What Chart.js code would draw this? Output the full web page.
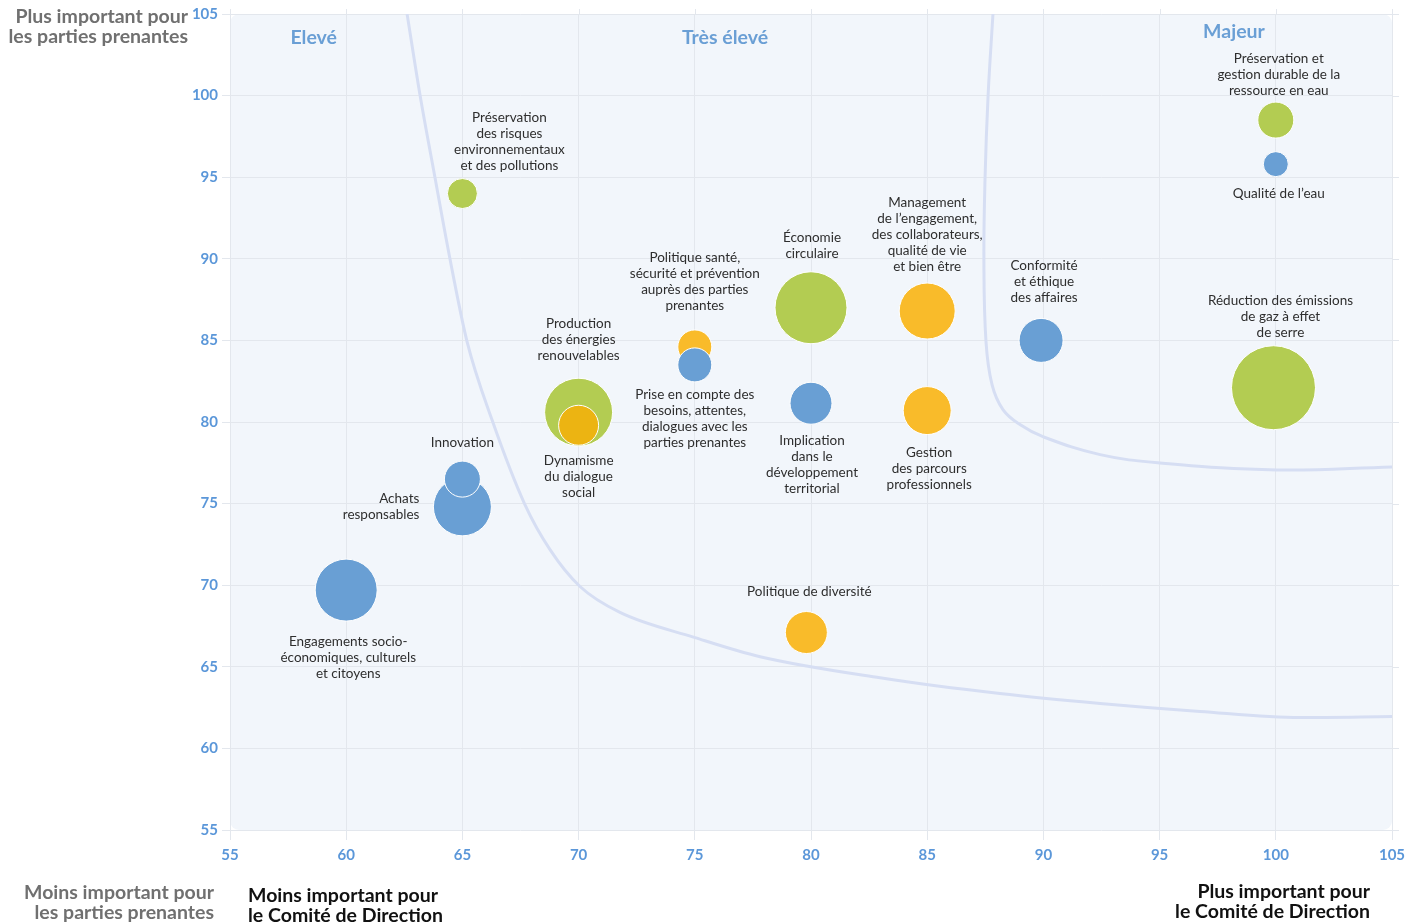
<!DOCTYPE html>
<html lang="fr">
<head>
<meta charset="utf-8">
<title>Matrice de matérialité</title>
<script src="https://cdn.jsdelivr.net/npm/chart.js@4.4.1/dist/chart.umd.min.js"></script>
<style>
  html, body { margin: 0; padding: 0; background: #fff; }
  #wrap { width: 1421px; height: 924px; }
</style>
</head>
<body>
<div id="wrap"><canvas id="matrix" width="1421" height="924"></canvas></div>
<script>
// enjeux (une ligne de tableau = une ligne de texte)
const enjeux = [
    ['Préservation', 'des risques', 'environnementaux', 'et des pollutions'],
    ['Production', 'des énergies', 'renouvelables'],
    ['Dynamisme', 'du dialogue', 'social'],
    ['Achats', 'responsables'],
    ['Innovation'],
    ['Engagements socio-', 'économiques, culturels', 'et citoyens'],
    ['Politique santé,', 'sécurité et prévention', 'auprès des parties', 'prenantes'],
    ['Prise en compte des', 'besoins, attentes,', 'dialogues avec les', 'parties prenantes'],
    ['Économie', 'circulaire'],
    ['Implication', 'dans le', 'développement', 'territorial'],
    ['Politique de diversité'],
    ['Management', 'de l’engagement,', 'des collaborateurs,', 'qualité de vie', 'et bien être'],
    ['Gestion', 'des parcours', 'professionnels'],
    ['Conformité', 'et éthique', 'des affaires'],
    ['Réduction des émissions', 'de gaz à effet', 'de serre'],
    ['Préservation et', 'gestion durable de la', 'ressource en eau'],
    ['Qualité de l’eau']
];
const comiteScores   = [65, 70, 70, 65, 65, 60, 75, 75, 80, 80, 79.8, 85, 85, 89.9, 99.9, 100, 100];
const partiesScores  = [94, 80.6, 79.8, 74.8, 76.5, 69.7, 84.6, 83.5, 87, 81.15, 67.1, 86.8, 80.7, 85, 82.1, 98.5, 95.8];
const poids          = [15, 34, 20, 29, 18, 31, 17, 17, 36, 21, 21, 28, 24, 22, 42, 18, 12.5];
const themes         = ['env', 'env', 'dialogue', 'soc', 'soc', 'soc', 'rh', 'soc', 'env', 'soc', 'rh', 'rh', 'rh', 'soc', 'env', 'env', 'soc'];

// placement des étiquettes
const labelSides = ['top', 'top', 'bottom', 'left', 'top', 'bottom', 'top', 'bottom', 'top', 'bottom', 'top', 'top', 'bottom', 'top', 'top', 'top', 'bottom'];
const labelGaps  = [13, 23, 15, 14, 18, 21, 24, 13, 18, 16, 20, 16, 18, 21, 13, 11, 17];
const labelDx    = [47, 0, 0, 0, 0, 2, 0, 0, 1, 1, 3, 0, 2, 3, 7, 3, 3];

const axisTicks = [55, 60, 65, 70, 75, 80, 85, 90, 95, 100, 105];

const zoneNames = ['Elevé', 'Très élevé', 'Majeur'];
const zoneX = [58.6, 76.3, 98.2];
const zoneY = [103.55, 103.55, 103.9];

// courbes de seuil
const seuilBasX = [62.62, 63.18, 63.82, 64.47, 65.2, 66.27, 67.69, 68.77, 70.06, 71.78, 75.01, 77.81, 82.97, 88.13, 92.44, 96.74, 101.04, 105];
const seuilBasY = [105, 100, 94.98, 89.96, 84.93, 80.15, 74.94, 72.18, 69.92, 68.33, 66.79, 65.62, 64.33, 63.36, 62.75, 62.26, 61.89, 61.95];
const seuilHautX = [87.83, 87.62, 87.49, 87.44, 87.53, 87.79, 88.26, 88.99, 89.98, 92.44, 95.02, 100.05, 105];
const seuilHautY = [105, 100, 94.98, 89.96, 84.93, 82.29, 80.76, 79.84, 79.1, 78.0, 77.49, 77.06, 77.25];

const couleurs = { env: '#b3cc52', soc: '#699fd4', rh: '#f9bb2a', dialogue: '#ecb412' };
const FONT = 'Lato, "Open Sans", sans-serif';
const GRID = '#e3e7ed';

const fondPlugin = {
    id: 'fond',
    beforeDraw(chart) {
        const { ctx, chartArea: a } = chart;
        ctx.save();
        ctx.fillStyle = '#f2f6fb';
        ctx.beginPath();
        ctx.roundRect(a.left, a.top, a.right - a.left, a.bottom - a.top, 9);
        ctx.fill();
        // petits dépassements de la grille en haut et à droite
        ctx.strokeStyle = GRID;
        ctx.lineWidth = 1;
        ctx.beginPath();
        chart.scales.x.ticks.forEach(t => {
            const px = Math.round(chart.scales.x.getPixelForValue(t.value)) + 0.5;
            ctx.moveTo(px, a.top); ctx.lineTo(px, a.top - 5);
        });
        chart.scales.y.ticks.forEach(t => {
            const py = Math.round(chart.scales.y.getPixelForValue(t.value)) + 0.5;
            ctx.moveTo(a.right, py); ctx.lineTo(a.right + 7, py);
        });
        ctx.stroke();
        ctx.restore();
    }
};

const textesPlugin = {
    id: 'textes',
    afterDatasetsDraw(chart) {
        const { ctx, scales: { x, y } } = chart;
        const lh = 16;
        ctx.save();

        // étiquettes des enjeux
        ctx.font = '13.5px ' + FONT;
        ctx.fillStyle = '#2e2e2e';
        ctx.textBaseline = 'middle';
        enjeux.forEach((lines, i) => {
            const cx = x.getPixelForValue(comiteScores[i]);
            const cy = y.getPixelForValue(partiesScores[i]);
            const r = poids[i];
            const gap = labelGaps[i];
            let tx = cx + labelDx[i], ty;
            if (labelSides[i] === 'top') {
                ctx.textAlign = 'center';
                ty = cy - r - gap - (lines.length - 1) * lh;
            } else if (labelSides[i] === 'bottom') {
                ctx.textAlign = 'center';
                ty = cy + r + gap;
            } else {
                ctx.textAlign = 'right';
                tx = cx - r - gap;
                ty = cy - (lines.length - 1) * lh / 2;
            }
            lines.forEach((l, k) => ctx.fillText(l, tx, ty + k * lh));
        });

        // zones
        ctx.font = 'bold 19.5px ' + FONT;
        ctx.fillStyle = '#6a9fd5';
        ctx.textAlign = 'center';
        zoneNames.forEach((n, i) => ctx.fillText(n, x.getPixelForValue(zoneX[i]), y.getPixelForValue(zoneY[i])));
        ctx.restore();
    },
    afterDraw(chart) {
        const ctx = chart.ctx;
        ctx.save();
        ctx.font = 'bold 19.5px ' + FONT;
        ctx.textBaseline = 'middle';
        ctx.fillStyle = '#707070';
        ctx.textAlign = 'right';
        ctx.fillText('Plus important pour', 188, 17);
        ctx.fillText('les parties prenantes', 188, 37);
        ctx.fillText('Moins important pour', 214, 893);
        ctx.fillText('les parties prenantes', 214, 913);
        ctx.fillStyle = '#111';
        ctx.fillText('Plus important pour', 1370, 892);
        ctx.fillText('le Comité de Direction', 1370, 912);
        ctx.textAlign = 'left';
        ctx.fillText('Moins important pour', 248, 896);
        ctx.fillText('le Comité de Direction', 248, 916);
        ctx.restore();
    }
};

const tickFont = { family: FONT, weight: 'bold', size: 15 };

new Chart(document.getElementById('matrix').getContext('2d'), {
    type: 'bubble',
    data: {
        datasets: [
            {
                type: 'bubble',
                order: 0,
                data: comiteScores.map((v, i) => ({ x: v, y: partiesScores[i], r: poids[i] })),
                backgroundColor: themes.map(t => couleurs[t]),
                borderColor: '#ffffff',
                borderWidth: 1
            },
            {
                type: 'line',
                order: 1,
                data: seuilBasX.map((v, i) => ({ x: v, y: seuilBasY[i] })),
                borderColor: '#d6def3',
                borderWidth: 3,
                pointRadius: 0,
                cubicInterpolationMode: 'monotone',
                fill: false
            },
            {
                type: 'line',
                order: 1,
                data: seuilHautX.map((v, i) => ({ x: v, y: seuilHautY[i] })),
                borderColor: '#d6def3',
                borderWidth: 3,
                pointRadius: 0,
                tension: 0.4,
                fill: false
            }
        ]
    },
    options: {
        responsive: false,
        animation: false,
        events: [],
        layout: { autoPadding: false, padding: { top: 14, right: 29, left: 0, bottom: 0 } },
        plugins: { legend: { display: false }, tooltip: { enabled: false } },
        scales: {
            x: {
                type: 'linear', min: 55, max: 105,
                afterBuildTicks: s => { s.ticks = axisTicks.map(v => ({ value: v })); },
                afterFit: s => { s.height = 94; },
                ticks: { color: '#5b97d9', font: tickFont, padding: 6 },
                grid: { color: GRID, tickLength: 10 },
                border: { display: false }
            },
            y: {
                type: 'linear', min: 55, max: 105,
                afterBuildTicks: s => { s.ticks = axisTicks.map(v => ({ value: v })); },
                afterFit: s => { s.width = 230; },
                ticks: { color: '#5b97d9', font: tickFont, padding: 4 },
                grid: { color: GRID, tickLength: 8 },
                border: { display: false }
            }
        }
    },
    plugins: [fondPlugin, textesPlugin]
});
</script>
</body>
</html>
